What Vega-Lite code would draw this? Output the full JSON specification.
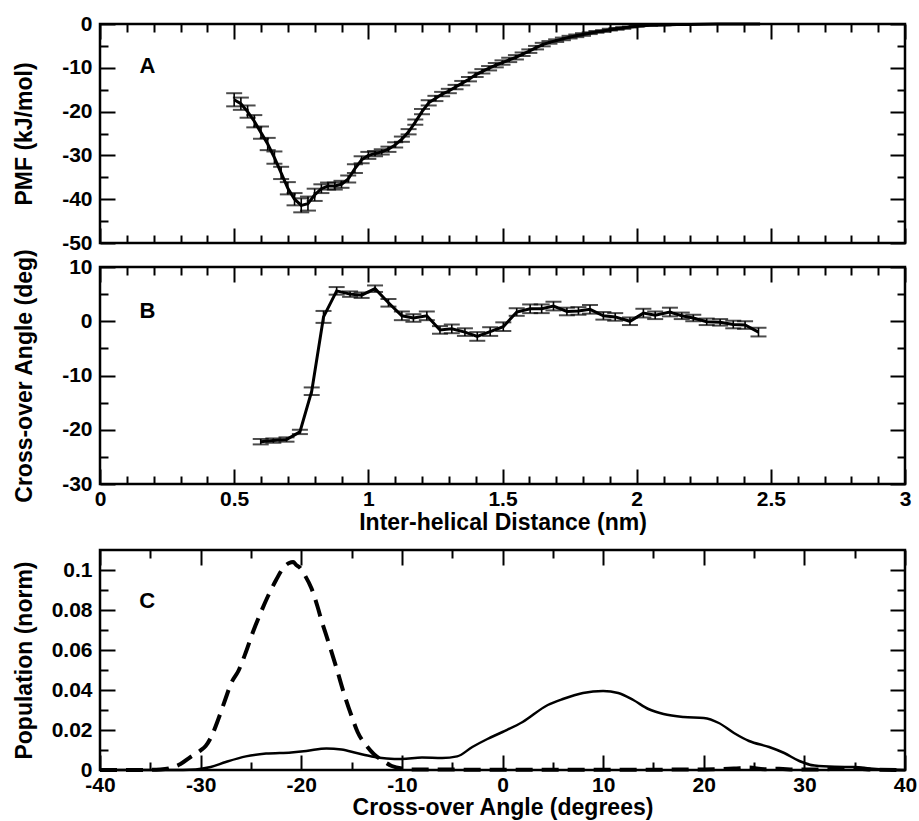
{
  "$schema": "https://vega.github.io/schema/vega-lite/v6.json",
  "padding": {"left": 11, "top": 11, "right": 8, "bottom": 5},
  "background": "white",
  "config": {
    "view": {"stroke": "black", "strokeWidth": 2.5},
    "font": "Liberation Sans",
    "locale": {"number": {"decimal": ".", "thousands": ",", "grouping": [3], "currency": ["$", ""], "minus": "-"}},
    "axis": {
      "grid": false, "domain": false,
      "labelFont": "Liberation Sans", "labelFontWeight": "bold", "labelFontSize": 21, "labelColor": "black",
      "titleFont": "Liberation Sans", "titleFontWeight": "bold", "titleFontSize": 23, "titleColor": "black",
      "tickColor": "black", "tickWidth": 2, "labelFlush": false, "labelOverlap": false, "format": "~f"
    }
  },
  "datasets": {
    "pmf": [
      {"x": 0.500, "y": -17.3, "e": 1.5}, {"x": 0.525, "y": -18.2, "e": 1.4}, {"x": 0.550, "y": -20.0, "e": 1.4},
      {"x": 0.575, "y": -22.2, "e": 1.4}, {"x": 0.600, "y": -24.8, "e": 1.4}, {"x": 0.625, "y": -27.4, "e": 1.4},
      {"x": 0.650, "y": -30.5, "e": 1.4}, {"x": 0.675, "y": -34.0, "e": 1.4}, {"x": 0.700, "y": -37.5, "e": 1.4},
      {"x": 0.725, "y": -40.0, "e": 1.4}, {"x": 0.750, "y": -41.4, "e": 1.6}, {"x": 0.775, "y": -41.0, "e": 1.6},
      {"x": 0.800, "y": -39.0, "e": 1.4}, {"x": 0.825, "y": -37.6, "e": 1.0}, {"x": 0.850, "y": -37.0, "e": 0.8},
      {"x": 0.875, "y": -37.0, "e": 0.8}, {"x": 0.900, "y": -36.6, "e": 0.8}, {"x": 0.925, "y": -35.4, "e": 0.8},
      {"x": 0.950, "y": -33.0, "e": 1.0}, {"x": 0.975, "y": -31.0, "e": 0.8}, {"x": 1.000, "y": -30.0, "e": 0.8},
      {"x": 1.025, "y": -29.6, "e": 0.6}, {"x": 1.050, "y": -29.2, "e": 0.6}, {"x": 1.075, "y": -28.6, "e": 0.6},
      {"x": 1.100, "y": -27.6, "e": 0.6}, {"x": 1.125, "y": -26.3, "e": 0.6}, {"x": 1.150, "y": -24.6, "e": 0.6},
      {"x": 1.175, "y": -22.4, "e": 0.6}, {"x": 1.200, "y": -20.0, "e": 0.6}, {"x": 1.225, "y": -18.0, "e": 0.6},
      {"x": 1.250, "y": -17.0, "e": 0.6}, {"x": 1.275, "y": -16.0, "e": 0.5}, {"x": 1.300, "y": -15.3, "e": 0.5},
      {"x": 1.325, "y": -14.4, "e": 0.5}, {"x": 1.350, "y": -13.5, "e": 0.5}, {"x": 1.375, "y": -12.6, "e": 0.5},
      {"x": 1.400, "y": -11.6, "e": 0.5}, {"x": 1.425, "y": -10.8, "e": 0.5}, {"x": 1.450, "y": -10.1, "e": 0.5},
      {"x": 1.475, "y": -9.4, "e": 0.5}, {"x": 1.500, "y": -8.8, "e": 0.5}, {"x": 1.525, "y": -8.2, "e": 0.5},
      {"x": 1.550, "y": -7.6, "e": 0.5}, {"x": 1.575, "y": -6.9, "e": 0.4}, {"x": 1.600, "y": -6.2, "e": 0.4},
      {"x": 1.625, "y": -5.4, "e": 0.4}, {"x": 1.650, "y": -4.7, "e": 0.4}, {"x": 1.675, "y": -4.2, "e": 0.3},
      {"x": 1.700, "y": -3.8, "e": 0.3}, {"x": 1.725, "y": -3.4, "e": 0.3}, {"x": 1.750, "y": -3.0, "e": 0.3},
      {"x": 1.775, "y": -2.7, "e": 0.3}, {"x": 1.800, "y": -2.4, "e": 0.3}, {"x": 1.825, "y": -2.1, "e": 0.2},
      {"x": 1.850, "y": -1.8, "e": 0.2}, {"x": 1.875, "y": -1.6, "e": 0.2}, {"x": 1.900, "y": -1.3, "e": 0.2},
      {"x": 1.925, "y": -1.1, "e": 0.2}, {"x": 1.950, "y": -0.9, "e": 0.2}, {"x": 1.975, "y": -0.7, "e": 0.1},
      {"x": 2.000, "y": -0.5, "e": 0.1}, {"x": 2.050, "y": -0.3, "e": 0.1}, {"x": 2.100, "y": -0.2, "e": 0.1},
      {"x": 2.150, "y": -0.1, "e": 0}, {"x": 2.200, "y": -0.1, "e": 0}, {"x": 2.300, "y": 0, "e": 0},
      {"x": 2.400, "y": 0, "e": 0}, {"x": 2.460, "y": 0, "e": 0}
    ],
    "angle": [
      {"x": 0.599, "y": -22.2, "e": 0.5}, {"x": 0.646, "y": -22.0, "e": 0.4}, {"x": 0.695, "y": -21.8, "e": 0.4},
      {"x": 0.745, "y": -20.4, "e": 0.4}, {"x": 0.789, "y": -12.9, "e": 0.7}, {"x": 0.833, "y": 0.8, "e": 1.1},
      {"x": 0.882, "y": 5.6, "e": 0.7}, {"x": 0.932, "y": 5.0, "e": 0.5}, {"x": 0.975, "y": 4.8, "e": 0.5},
      {"x": 1.025, "y": 6.0, "e": 0.6}, {"x": 1.075, "y": 3.4, "e": 0.7}, {"x": 1.125, "y": 1.0, "e": 0.8},
      {"x": 1.168, "y": 0.6, "e": 0.7}, {"x": 1.218, "y": 1.0, "e": 0.8}, {"x": 1.267, "y": -1.6, "e": 0.7},
      {"x": 1.311, "y": -1.4, "e": 0.8}, {"x": 1.360, "y": -2.0, "e": 0.7}, {"x": 1.406, "y": -2.8, "e": 0.8},
      {"x": 1.454, "y": -1.9, "e": 0.8}, {"x": 1.503, "y": -1.0, "e": 0.8}, {"x": 1.553, "y": 1.7, "e": 0.7},
      {"x": 1.603, "y": 2.3, "e": 0.8}, {"x": 1.646, "y": 2.3, "e": 0.8}, {"x": 1.690, "y": 2.8, "e": 0.8},
      {"x": 1.740, "y": 1.8, "e": 0.7}, {"x": 1.783, "y": 1.9, "e": 0.7}, {"x": 1.826, "y": 2.2, "e": 0.8},
      {"x": 1.876, "y": 1.0, "e": 0.7}, {"x": 1.920, "y": 0.8, "e": 0.7}, {"x": 1.975, "y": 0.0, "e": 0.7},
      {"x": 2.025, "y": 1.5, "e": 0.8}, {"x": 2.069, "y": 1.1, "e": 0.7}, {"x": 2.124, "y": 1.7, "e": 0.8},
      {"x": 2.168, "y": 1.0, "e": 0.6}, {"x": 2.211, "y": 0.6, "e": 0.6}, {"x": 2.261, "y": -0.1, "e": 0.6},
      {"x": 2.311, "y": -0.2, "e": 0.6}, {"x": 2.360, "y": -0.6, "e": 0.7}, {"x": 2.404, "y": -0.7, "e": 0.7},
      {"x": 2.454, "y": -2.0, "e": 0.8}
    ],
    "popDash": [
      {"x": -40, "y": 0}, {"x": -36, "y": 0}, {"x": -34, "y": 0.0003}, {"x": -33, "y": 0.001}, {"x": -32, "y": 0.003},
      {"x": -31, "y": 0.0065}, {"x": -30, "y": 0.0098}, {"x": -29.5, "y": 0.012}, {"x": -29, "y": 0.016},
      {"x": -28.2, "y": 0.026}, {"x": -27.5, "y": 0.036}, {"x": -27, "y": 0.043}, {"x": -26.2, "y": 0.05},
      {"x": -25.5, "y": 0.059}, {"x": -24.8, "y": 0.069}, {"x": -24, "y": 0.079}, {"x": -23.3, "y": 0.087},
      {"x": -22.5, "y": 0.095}, {"x": -21.8, "y": 0.101}, {"x": -21.2, "y": 0.1035}, {"x": -20.8, "y": 0.104},
      {"x": -20.5, "y": 0.1025}, {"x": -20.2, "y": 0.1015}, {"x": -19.6, "y": 0.097}, {"x": -19, "y": 0.091},
      {"x": -18.4, "y": 0.082}, {"x": -18, "y": 0.075}, {"x": -17.3, "y": 0.064}, {"x": -16.5, "y": 0.051},
      {"x": -15.8, "y": 0.039}, {"x": -15, "y": 0.027}, {"x": -14.4, "y": 0.019}, {"x": -13.5, "y": 0.012},
      {"x": -12.8, "y": 0.008}, {"x": -12, "y": 0.005}, {"x": -11, "y": 0.002}, {"x": -10, "y": 0.0007},
      {"x": -9, "y": 0.0003}, {"x": -5, "y": 0.0002}, {"x": 0, "y": 0.0001}, {"x": 10, "y": 0.0001},
      {"x": 20, "y": 0.0003}, {"x": 23, "y": 0.0007}, {"x": 24.5, "y": 0.0012}, {"x": 26, "y": 0.0004},
      {"x": 27.5, "y": 0.0006}, {"x": 29, "y": 0.0002}, {"x": 32, "y": 0.0003}, {"x": 34, "y": 0.0009},
      {"x": 35.5, "y": 0.0006}, {"x": 37, "y": 0.0001}, {"x": 40, "y": 0}
    ],
    "popSolid": [
      {"x": -40, "y": 0}, {"x": -33, "y": 0}, {"x": -30.5, "y": 0.0003}, {"x": -29, "y": 0.0015},
      {"x": -27.5, "y": 0.004}, {"x": -25.5, "y": 0.0068}, {"x": -23.5, "y": 0.0082}, {"x": -21, "y": 0.0088},
      {"x": -19.5, "y": 0.0095}, {"x": -17.5, "y": 0.0108}, {"x": -16, "y": 0.0102}, {"x": -14.5, "y": 0.0085},
      {"x": -13, "y": 0.0068}, {"x": -11.5, "y": 0.0058}, {"x": -10, "y": 0.0055}, {"x": -8, "y": 0.0062},
      {"x": -6, "y": 0.006}, {"x": -4.5, "y": 0.0068}, {"x": -3, "y": 0.0115}, {"x": -1.5, "y": 0.0155},
      {"x": 0, "y": 0.019}, {"x": 2, "y": 0.024}, {"x": 4.5, "y": 0.0325}, {"x": 6, "y": 0.0355},
      {"x": 8, "y": 0.0385}, {"x": 10, "y": 0.0395}, {"x": 11.5, "y": 0.0385}, {"x": 13, "y": 0.035},
      {"x": 14.5, "y": 0.0305}, {"x": 16, "y": 0.028}, {"x": 18, "y": 0.0265}, {"x": 20, "y": 0.026},
      {"x": 21.5, "y": 0.0235}, {"x": 23, "y": 0.0185}, {"x": 24.5, "y": 0.0145}, {"x": 26.5, "y": 0.0115},
      {"x": 28, "y": 0.0085}, {"x": 29.5, "y": 0.0045}, {"x": 31, "y": 0.0022}, {"x": 33, "y": 0.0016},
      {"x": 35, "y": 0.0015}, {"x": 36.5, "y": 0.0008}, {"x": 38.5, "y": 0.0002}, {"x": 40, "y": 0}
    ]
  },
  "vconcat": [
    {
      "vconcat": [
        {
          "width": 805, "height": 219,
          "data": {"name": "pmf"},
          "layer": [
            {
              "transform": [{"filter": "datum.e > 0"}],
              "mark": {"type": "errorbar", "color": "black", "ticks": {"size": 16, "thickness": 2, "color": "black"}, "rule": {"strokeWidth": 1.6, "color": "black"}},
              "encoding": {
                "x": {"field": "x", "type": "quantitative", "scale": {"domain": [0, 3], "nice": false, "zero": false}, "axis": null},
                "y": {"field": "y", "type": "quantitative", "scale": {"domain": [-50, 0], "nice": false, "zero": false}, "axis": null},
                "yError": {"field": "e"}
              }
            },
            {
              "mark": {"type": "line", "color": "black", "strokeWidth": 3},
              "encoding": {
                "x": {"field": "x", "type": "quantitative", "scale": {"domain": [0, 3], "nice": false, "zero": false},
                      "axis": {"orient": "bottom", "values": [0, 0.5, 1, 1.5, 2, 2.5, 3], "tickSize": 15, "offset": -15, "labels": false, "title": null}},
                "y": {"field": "y", "type": "quantitative", "scale": {"domain": [-50, 0], "nice": false, "zero": false},
                      "axis": {"orient": "left", "values": [-50, -40, -30, -20, -10, 0], "tickSize": 15, "offset": -15, "labelPadding": 8, "title": "PMF (kJ/mol)", "titleX": -79}}
              }
            },
            {
              "mark": {"type": "point", "opacity": 0},
              "encoding": {
                "x": {"field": "x", "type": "quantitative", "scale": {"domain": [0, 3], "nice": false, "zero": false},
                      "axis": {"orient": "bottom", "values": [0.1, 0.2, 0.3, 0.4, 0.6, 0.7, 0.8, 0.9, 1.1, 1.2, 1.3, 1.4, 1.6, 1.7, 1.8, 1.9, 2.1, 2.2, 2.3, 2.4, 2.6, 2.7, 2.8, 2.9], "tickSize": 8, "offset": -8, "labels": false, "title": null}},
                "y": {"field": "y", "type": "quantitative", "scale": {"domain": [-50, 0], "nice": false, "zero": false},
                      "axis": {"orient": "left", "values": [-45, -35, -25, -15, -5], "tickSize": 8, "offset": -8, "labels": false, "title": null}}
              }
            },
            {
              "data": {"values": [{"t": "A", "x": 0.177, "y": -9.6}]},
              "mark": {"type": "text", "fontSize": 22, "fontWeight": "bold", "font": "Liberation Sans", "color": "black", "baseline": "middle", "align": "center"},
              "encoding": {
                "x": {"field": "x", "type": "quantitative", "scale": {"domain": [0, 3], "nice": false, "zero": false},
                      "axis": {"orient": "top", "values": [0, 0.5, 1, 1.5, 2, 2.5, 3], "tickSize": 15, "offset": -15, "labels": false, "title": null}},
                "y": {"field": "y", "type": "quantitative", "scale": {"domain": [-50, 0], "nice": false, "zero": false},
                      "axis": {"orient": "right", "values": [-50, -40, -30, -20, -10, 0], "tickSize": 15, "offset": -15, "labels": false, "title": null}},
                "text": {"field": "t"}
              }
            },
            {
              "mark": {"type": "point", "opacity": 0},
              "encoding": {
                "x": {"field": "x", "type": "quantitative", "scale": {"domain": [0, 3], "nice": false, "zero": false},
                      "axis": {"orient": "top", "values": [0.1, 0.2, 0.3, 0.4, 0.6, 0.7, 0.8, 0.9, 1.1, 1.2, 1.3, 1.4, 1.6, 1.7, 1.8, 1.9, 2.1, 2.2, 2.3, 2.4, 2.6, 2.7, 2.8, 2.9], "tickSize": 8, "offset": -8, "labels": false, "title": null}},
                "y": {"field": "y", "type": "quantitative", "scale": {"domain": [-50, 0], "nice": false, "zero": false},
                      "axis": {"orient": "right", "values": [-45, -35, -25, -15, -5], "tickSize": 8, "offset": -8, "labels": false, "title": null}}
              }
            }
          ],
          "resolve": {"axis": {"x": "independent", "y": "independent"}}
        },
        {
          "width": 805, "height": 217,
          "data": {"name": "angle"},
          "layer": [
            {
              "mark": {"type": "errorbar", "color": "black", "ticks": {"size": 16, "thickness": 2, "color": "black"}, "rule": {"strokeWidth": 1.6, "color": "black"}},
              "encoding": {
                "x": {"field": "x", "type": "quantitative", "scale": {"domain": [0, 3], "nice": false, "zero": false}, "axis": null},
                "y": {"field": "y", "type": "quantitative", "scale": {"domain": [-30, 10], "nice": false, "zero": false}, "axis": null},
                "yError": {"field": "e"}
              }
            },
            {
              "mark": {"type": "line", "color": "black", "strokeWidth": 3},
              "encoding": {
                "x": {"field": "x", "type": "quantitative", "scale": {"domain": [0, 3], "nice": false, "zero": false},
                      "axis": {"orient": "bottom", "values": [0, 0.5, 1, 1.5, 2, 2.5, 3], "tickSize": 15, "offset": -15, "labelPadding": 4, "title": "Inter-helical Distance (nm)", "titlePadding": 2}},
                "y": {"field": "y", "type": "quantitative", "scale": {"domain": [-30, 10], "nice": false, "zero": false},
                      "axis": {"orient": "left", "values": [-30, -20, -10, 0, 10], "tickSize": 15, "offset": -15, "labelPadding": 8, "title": "Cross-over Angle (deg)", "titleX": -79}}
              }
            },
            {
              "mark": {"type": "point", "opacity": 0},
              "encoding": {
                "x": {"field": "x", "type": "quantitative", "scale": {"domain": [0, 3], "nice": false, "zero": false},
                      "axis": {"orient": "bottom", "values": [0.1, 0.2, 0.3, 0.4, 0.6, 0.7, 0.8, 0.9, 1.1, 1.2, 1.3, 1.4, 1.6, 1.7, 1.8, 1.9, 2.1, 2.2, 2.3, 2.4, 2.6, 2.7, 2.8, 2.9], "tickSize": 8, "offset": -8, "labels": false, "title": null}},
                "y": {"field": "y", "type": "quantitative", "scale": {"domain": [-30, 10], "nice": false, "zero": false},
                      "axis": {"orient": "left", "values": [-25, -15, -5, 5], "tickSize": 8, "offset": -8, "labels": false, "title": null}}
              }
            },
            {
              "data": {"values": [{"t": "B", "x": 0.177, "y": 1.9}]},
              "mark": {"type": "text", "fontSize": 22, "fontWeight": "bold", "font": "Liberation Sans", "color": "black", "baseline": "middle", "align": "center"},
              "encoding": {
                "x": {"field": "x", "type": "quantitative", "scale": {"domain": [0, 3], "nice": false, "zero": false},
                      "axis": {"orient": "top", "values": [0, 0.5, 1, 1.5, 2, 2.5, 3], "tickSize": 15, "offset": -15, "labels": false, "title": null}},
                "y": {"field": "y", "type": "quantitative", "scale": {"domain": [-30, 10], "nice": false, "zero": false},
                      "axis": {"orient": "right", "values": [-30, -20, -10, 0, 10], "tickSize": 15, "offset": -15, "labels": false, "title": null}},
                "text": {"field": "t"}
              }
            },
            {
              "mark": {"type": "point", "opacity": 0},
              "encoding": {
                "x": {"field": "x", "type": "quantitative", "scale": {"domain": [0, 3], "nice": false, "zero": false},
                      "axis": {"orient": "top", "values": [0.1, 0.2, 0.3, 0.4, 0.6, 0.7, 0.8, 0.9, 1.1, 1.2, 1.3, 1.4, 1.6, 1.7, 1.8, 1.9, 2.1, 2.2, 2.3, 2.4, 2.6, 2.7, 2.8, 2.9], "tickSize": 8, "offset": -8, "labels": false, "title": null}},
                "y": {"field": "y", "type": "quantitative", "scale": {"domain": [-30, 10], "nice": false, "zero": false},
                      "axis": {"orient": "right", "values": [-25, -15, -5, 5], "tickSize": 8, "offset": -8, "labels": false, "title": null}}
              }
            }
          ],
          "resolve": {"axis": {"x": "independent", "y": "independent"}}
        }
      ],
      "spacing": 24,
      "bounds": "flush"
    },
    {
      "width": 805, "height": 220,
      "layer": [
        {
          "data": {"name": "popDash"},
          "mark": {"type": "line", "color": "black", "strokeWidth": 4, "strokeDash": [17, 9], "interpolate": "monotone"},
          "encoding": {
            "x": {"field": "x", "type": "quantitative", "scale": {"domain": [-40, 40], "nice": false, "zero": false},
                  "axis": {"orient": "bottom", "values": [-40, -30, -20, -10, 0, 10, 20, 30, 40], "tickSize": 15, "offset": -15, "labelPadding": 4, "title": "Cross-over Angle (degrees)", "titlePadding": 1}},
            "y": {"field": "y", "type": "quantitative", "scale": {"domain": [0, 0.11], "nice": false, "zero": false},
                  "axis": {"orient": "left", "values": [0, 0.02, 0.04, 0.06, 0.08, 0.1], "tickSize": 15, "offset": -15, "labelPadding": 8, "title": "Population (norm)", "titleX": -79}}
          }
        },
        {
          "data": {"name": "popSolid"},
          "mark": {"type": "line", "color": "black", "strokeWidth": 2.5, "interpolate": "monotone"},
          "encoding": {
            "x": {"field": "x", "type": "quantitative", "scale": {"domain": [-40, 40], "nice": false, "zero": false},
                  "axis": {"orient": "bottom", "values": [-35, -25, -15, -5, 5, 15, 25, 35], "tickSize": 8, "offset": -8, "labels": false, "title": null}},
            "y": {"field": "y", "type": "quantitative", "scale": {"domain": [0, 0.11], "nice": false, "zero": false},
                  "axis": {"orient": "left", "values": [0.01, 0.03, 0.05, 0.07, 0.09], "tickSize": 8, "offset": -8, "labels": false, "title": null}}
          }
        },
        {
          "data": {"values": [{"t": "C", "x": -35.3, "y": 0.0845}]},
          "mark": {"type": "text", "fontSize": 22, "fontWeight": "bold", "font": "Liberation Sans", "color": "black", "baseline": "middle", "align": "center"},
          "encoding": {
            "x": {"field": "x", "type": "quantitative", "scale": {"domain": [-40, 40], "nice": false, "zero": false},
                  "axis": {"orient": "top", "values": [-40, -30, -20, -10, 0, 10, 20, 30, 40], "tickSize": 15, "offset": -15, "labels": false, "title": null}},
            "y": {"field": "y", "type": "quantitative", "scale": {"domain": [0, 0.11], "nice": false, "zero": false},
                  "axis": {"orient": "right", "values": [0, 0.02, 0.04, 0.06, 0.08, 0.1], "tickSize": 15, "offset": -15, "labels": false, "title": null}},
            "text": {"field": "t"}
          }
        },
        {
          "data": {"name": "popSolid"},
          "mark": {"type": "point", "opacity": 0},
          "encoding": {
            "x": {"field": "x", "type": "quantitative", "scale": {"domain": [-40, 40], "nice": false, "zero": false},
                  "axis": {"orient": "top", "values": [-35, -25, -15, -5, 5, 15, 25, 35], "tickSize": 8, "offset": -8, "labels": false, "title": null}},
            "y": {"field": "y", "type": "quantitative", "scale": {"domain": [0, 0.11], "nice": false, "zero": false},
                  "axis": {"orient": "right", "values": [0.01, 0.03, 0.05, 0.07, 0.09], "tickSize": 8, "offset": -8, "labels": false, "title": null}}
          }
        }
      ],
      "resolve": {"axis": {"x": "independent", "y": "independent"}}
    }
  ],
  "spacing": 11
}
